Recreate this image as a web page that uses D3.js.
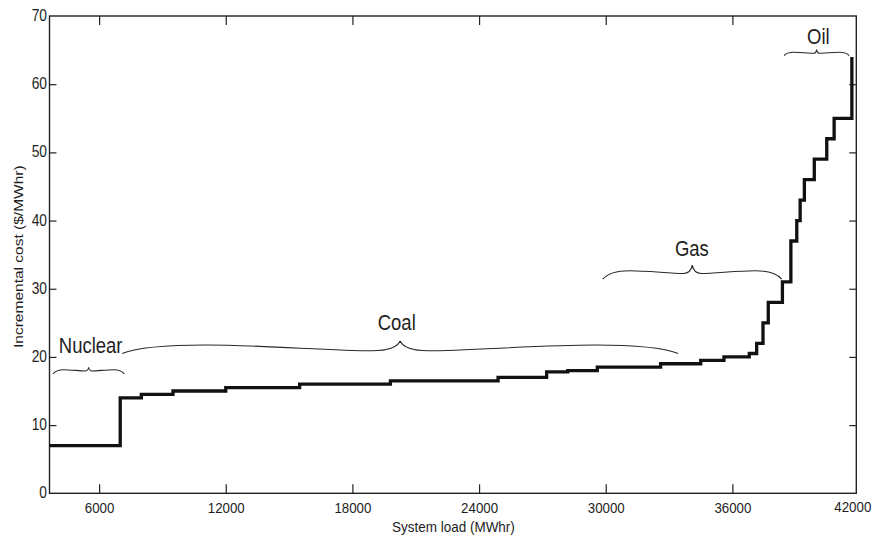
<!DOCTYPE html>
<html><head><meta charset="utf-8">
<script src="https://cdn.jsdelivr.net/npm/d3@7"></script>
<style>
body{margin:0;background:#fff}
text{font-family:"Liberation Sans",Arial,Helvetica,sans-serif;fill:#1e1e1e}
</style>
</head><body><svg id="c" width="875" height="536"></svg>
<script>
// ---- data ----
const stepLoads = [3650, 7000, 8000, 9500, 12000, 15500, 19800, 24900, 27200, 28200, 29600, 32600, 34500, 35600, 36800, 37150, 37450, 37700, 38370, 38770, 39050, 39210, 39410, 39880, 40470, 40820, 41660];
const stepCosts = [7, 14, 14.5, 15, 15.5, 16, 16.5, 17, 17.8, 18, 18.5, 19, 19.5, 20, 20.5, 22, 25, 28, 31, 37, 40, 43, 46, 49, 52, 55, 64];
const xTicks = [6000, 12000, 18000, 24000, 30000, 36000];
const xEndLabel = "42000";
const yTicks = [0, 10, 20, 30, 40, 50, 60, 70];
const braceLabels = ["Nuclear", "Coal", "Gas", "Oil"];
const braceStart = [3820, 7090, 29860, 38450];
const braceEnd = [7190, 33430, 38340, 41530];
const braceCost = [17.5, 20.5, 31.4, 64.2];
const labelLoad = [5600, 20100, 34080, 40070];
const labelCost = [20.6, 24.0, 34.8, 65.9];
const xTitle = "System load (MWhr)";
const yTitle = "Incremental cost ($/MWhr)";

// ---- layout / style ----
const L = 49.5, R = 856.3, T = 16, B = 493.3;
const SY = 1.15; // vertical text stretch
const braceShape = [[4.3, 3, 6.7], [8.5, 2.8, 12.5], [8.5, 5.7, 14], [3.3, 2.3, 6]];

const svg = d3.select("#c");
const x = d3.scaleLinear().domain([3650, 41870]).range([L, R]);
const y = d3.scaleLinear().domain([0, 70]).range([B, T]);

const axisColor = "#222";
// frame
svg.append("rect").attr("x", L).attr("y", T).attr("width", R - L).attr("height", B - T)
  .attr("fill", "none").attr("stroke", axisColor).attr("stroke-width", 1.4);

// axes with inward ticks
const gx = svg.append("g").attr("transform", `translate(0,${B})`)
  .call(d3.axisTop(x).tickValues(xTicks).tickSize(9).tickFormat(d3.format("d")));
gx.select(".domain").remove();
gx.selectAll("line").attr("stroke", axisColor).attr("stroke-width", 1.2);
gx.selectAll("text").attr("dy", 0)
  .attr("transform", `scale(1,${SY})`).attr("y", 19.5 / SY)
  .style("font-size", "13.3px").attr("fill", "#1e1e1e");

const gxTop = svg.append("g").attr("transform", `translate(0,${T})`)
  .call(d3.axisBottom(x).tickValues(xTicks).tickSize(9).tickFormat(""));
gxTop.select(".domain").remove();
gxTop.selectAll("line").attr("stroke", axisColor).attr("stroke-width", 1.2);

const gy = svg.append("g").attr("transform", `translate(${L},0)`)
  .call(d3.axisRight(y).tickValues(yTicks).tickSize(7).tickFormat(d3.format("d")));
gy.select(".domain").remove();
gy.selectAll("line").attr("stroke", axisColor).attr("stroke-width", 1.2);
gy.selectAll("text").attr("text-anchor", "end").attr("x", -2.5).attr("dy", 0)
  .attr("transform", `scale(1,${SY})`).attr("y", 4.6 / SY)
  .style("font-size", "13.8px").attr("fill", "#1e1e1e");
gy.selectAll(".tick").filter(d => d === 70 || d === 0).select("line").remove();

const gyR = svg.append("g").attr("transform", `translate(${R},0)`)
  .call(d3.axisLeft(y).tickValues(yTicks.filter(d => d > 0 && d < 70)).tickSize(7).tickFormat(""));
gyR.select(".domain").remove();
gyR.selectAll("line").attr("stroke", axisColor).attr("stroke-width", 1.2);

// 42000 end label
svg.append("text").attr("transform", `translate(${x.range()[1] - 3.5},${B + 18.5}) scale(1,${SY})`)
  .attr("text-anchor", "middle").style("font-size", "13.3px").text(xEndLabel);

// axis titles
svg.append("text").attr("transform", `translate(${(L + R) / 2 + 0.5},${B + 38.5}) scale(1,${SY})`)
  .attr("text-anchor", "middle").style("font-size", "13.5px").text(xTitle);
svg.append("text").attr("transform", `translate(22.5,${(T + B) / 2 + 2}) rotate(-90) scale(${SY},1)`)
  .attr("text-anchor", "middle").style("font-size", "13.5px").text(yTitle);

// step curve
const pts = stepLoads.map((d, i) => [d, stepCosts[i]]);
svg.append("path").datum(pts)
  .attr("d", d3.line().x(d => x(d[0])).y(d => y(d[1])).curve(d3.curveStepAfter))
  .attr("fill", "none").attr("stroke", "#111").attr("stroke-width", 3.3)
  .attr("stroke-linejoin", "miter").attr("stroke-linecap", "butt");

// braces
function bracePath(x0, x1, yb, p, dd, h) {
  const w = (x1 - x0) / 2, xc = x0 + w;
  const half = (s) => {
    const ex = s > 0 ? x0 : x1;
    const X = f => ex + s * f * w;
    return `M${X(0)},${yb}` +
      `C${X(0.05)},${yb - 0.65 * p} ${X(0.14)},${yb - p} ${X(0.3)},${yb - p}` +
      `C${X(0.5)},${yb - p} ${X(0.75)},${yb - dd} ${X(0.9)},${yb - dd}` +
      `C${X(0.96)},${yb - dd} ${X(0.99)},${yb - dd - 0.4 * (h - dd)} ${xc},${yb - h}`;
  };
  return half(1) + half(-1);
}
braceLabels.forEach((lab, i) => {
  const [p, dd, h] = braceShape[i];
  svg.append("path")
    .attr("d", bracePath(x(braceStart[i]), x(braceEnd[i]), y(braceCost[i]), p, dd, h))
    .attr("fill", "none").attr("stroke", "#2a2a2a").attr("stroke-width", 1.1);
  svg.append("text")
    .attr("transform", `translate(${x(labelLoad[i])},${y(labelCost[i])}) scale(1,${SY})`)
    .attr("text-anchor", "middle").style("font-size", "18.5px").text(lab);
});
</script>
</body></html>
